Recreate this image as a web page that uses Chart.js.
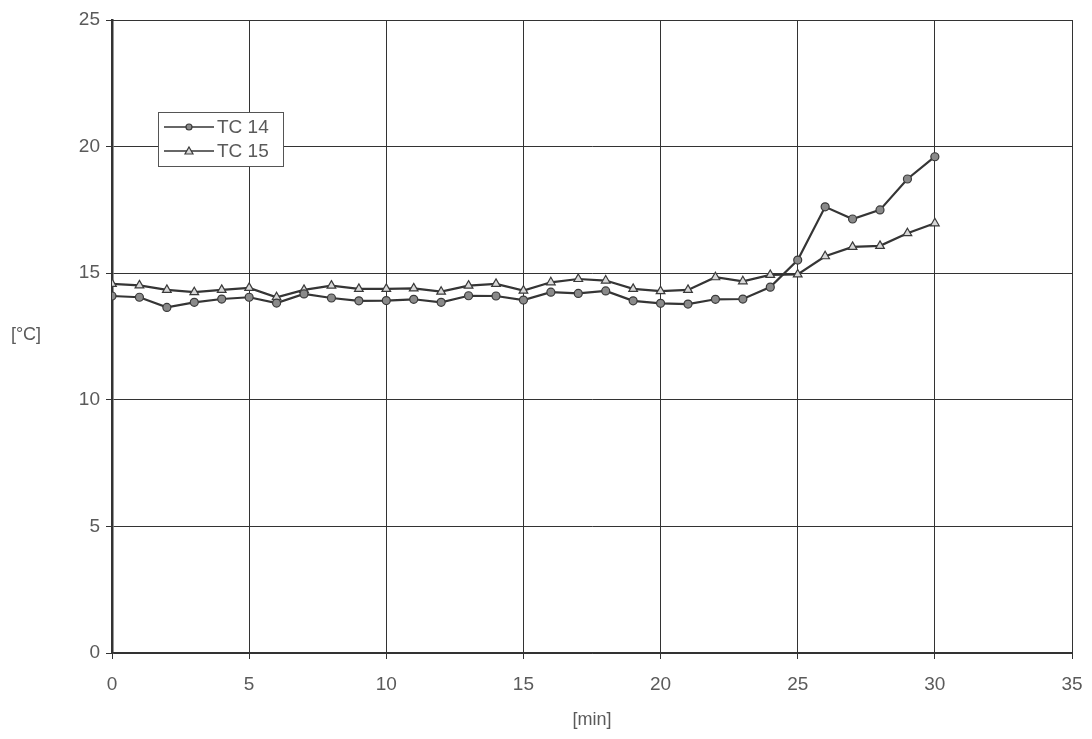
<!DOCTYPE html>
<html>
<head>
<meta charset="utf-8">
<script src="https://cdn.jsdelivr.net/npm/chart.js@4/dist/chart.umd.min.js"></script>
<style>
  html, body { margin: 0; padding: 0; background: #fff; }
  #wrap { width: 1092px; height: 739px; }
</style>
</head>
<body>
<div id="wrap"><canvas id="grafico" width="1092" height="739"></canvas></div>
<script>
// dati
var minuti = [0, 1, 2, 3, 4, 5, 6, 7, 8, 9, 10, 11, 12, 13, 14, 15, 16, 17, 18, 19, 20, 21, 22, 23, 24, 25, 26, 27, 28, 29, 30];
var tc14 = [14.1, 14.05, 13.65, 13.85, 13.98, 14.05, 13.82, 14.18, 14.02, 13.91, 13.92, 13.97, 13.85, 14.11, 14.1, 13.94, 14.25, 14.2, 14.3, 13.91, 13.81, 13.78, 13.97, 13.98, 14.45, 15.52, 17.62, 17.14, 17.5, 18.72, 19.6];
var tc15 = [14.58, 14.52, 14.34, 14.25, 14.34, 14.42, 14.05, 14.34, 14.51, 14.38, 14.38, 14.4, 14.27, 14.51, 14.58, 14.31, 14.64, 14.77, 14.71, 14.38, 14.29, 14.34, 14.84, 14.68, 14.93, 14.95, 15.67, 16.04, 16.08, 16.58, 16.97];
var etichette = ['TC 14', 'TC 15'];
var titoloX = '[min]';
var titoloY = '[\u00B0C]';

var grigioTesto = '#5a5a5a';
var grigioLinea = '#353535';

function punti(xs, ys) {
  var out = [];
  for (var i = 0; i < xs.length; i++) {
    out.push({ x: xs[i], y: ys[i] });
  }
  return out;
}

// legenda dentro l'area del grafico, con il riquadro
var legendaBox = {
  id: 'legendaBox',
  afterDraw: function (chart) {
    var ctx = chart.ctx;
    var x0 = 158, y0 = 112, w = 125, h = 54;
    ctx.save();
    ctx.fillStyle = '#fff';
    ctx.fillRect(x0, y0, w, h);
    ctx.strokeStyle = '#555';
    ctx.lineWidth = 1;
    ctx.strokeRect(x0 + 0.5, y0 + 0.5, w, h);
    ctx.font = '19px "Liberation Sans", Arial, sans-serif';
    ctx.textBaseline = 'middle';
    chart.data.datasets.forEach(function (ds, i) {
      var yy = y0 + 15 + i * 24;
      ctx.strokeStyle = grigioLinea;
      ctx.lineWidth = 1.5;
      ctx.beginPath();
      ctx.moveTo(x0 + 6, yy);
      ctx.lineTo(x0 + 56, yy);
      ctx.stroke();
      ctx.fillStyle = ds.pointBackgroundColor;
      ctx.strokeStyle = ds.pointBorderColor;
      ctx.lineWidth = 1.2;
      if (ds.pointStyle === 'triangle') {
        ctx.beginPath();
        ctx.moveTo(x0 + 31, yy - 4);
        ctx.lineTo(x0 + 35, yy + 3);
        ctx.lineTo(x0 + 27, yy + 3);
        ctx.closePath();
        ctx.fill();
        ctx.stroke();
      } else {
        ctx.beginPath();
        ctx.arc(x0 + 31, yy, 3, 0, Math.PI * 2);
        ctx.fill();
        ctx.stroke();
      }
      ctx.fillStyle = grigioTesto;
      ctx.fillText(ds.label, x0 + 59, yy + 1);
    });
    ctx.restore();
  }
};

// titolo asse y orizzontale
var titoloAsseY = {
  id: 'titoloAsseY',
  afterDraw: function (chart) {
    var ctx = chart.ctx;
    ctx.save();
    ctx.font = '18px "Liberation Sans", Arial, sans-serif';
    ctx.fillStyle = grigioTesto;
    ctx.textAlign = 'center';
    ctx.textBaseline = 'middle';
    ctx.fillText(titoloY, 26, 335);
    ctx.restore();
  }
};

var ctx = document.getElementById('grafico');
var chart = new Chart(ctx, {
  type: 'line',
  data: {
    datasets: [{
      label: etichette[0],
      data: punti(minuti, tc14),
      borderColor: grigioLinea,
      borderWidth: 2.2,
      pointStyle: 'circle',
      pointRadius: 4,
      pointBackgroundColor: '#8a8a8a',
      pointBorderColor: '#3a3a3a',
      pointBorderWidth: 1.2,
      lineTension: 0,
      fill: false
    }, {
      label: etichette[1],
      data: punti(minuti, tc15),
      borderColor: grigioLinea,
      borderWidth: 2.2,
      pointStyle: 'triangle',
      pointRadius: 5,
      pointBackgroundColor: '#d8d8d8',
      pointBorderColor: '#3a3a3a',
      pointBorderWidth: 1.2,
      lineTension: 0,
      fill: false
    }]
  },
  options: {
    responsive: false,
    animation: false,
    layout: { padding: { top: 20, right: 20, left: 0, bottom: 0 } },
    plugins: {
      legend: { display: false },
      tooltip: { enabled: false }
    },
    scales: {
      x: {
        type: 'linear',
        min: 0,
        max: 35,
        ticks: {
          stepSize: 5,
          padding: 14,
          color: grigioTesto,
          font: { family: '"Liberation Sans", Arial, sans-serif', size: 19 }
        },
        grid: { color: '#333', lineWidth: 1, tickLength: 6, drawTicks: true },
        border: { color: '#333', width: 1.5 },
        title: {
          display: true,
          text: titoloX,
          color: grigioTesto,
          font: { family: '"Liberation Sans", Arial, sans-serif', size: 18 },
          padding: { top: 6, bottom: 8 }
        },
        afterFit: function (scale) {
          scale.height = 86;
          scale.paddingRight = 0;
          scale.paddingLeft = 0;
        }
      },
      y: {
        min: 0,
        max: 25,
        ticks: {
          stepSize: 5,
          padding: 6,
          color: grigioTesto,
          font: { family: '"Liberation Sans", Arial, sans-serif', size: 19 }
        },
        grid: { color: '#333', lineWidth: 1, tickLength: 6 },
        border: { color: '#333', width: 2.5 },
        afterFit: function (scale) { scale.width = 112; }
      },
      y2: {
        position: 'right',
        min: 0,
        max: 25,
        ticks: { display: false },
        grid: { display: false },
        border: { color: '#333', width: 1 },
        afterFit: function (scale) { scale.width = 0; }
      },
      x2: {
        position: 'top',
        type: 'linear',
        min: 0,
        max: 35,
        ticks: { display: false },
        grid: { display: false },
        border: { color: '#333', width: 1 },
        afterFit: function (scale) {
          scale.height = 0;
          scale.paddingRight = 0;
          scale.paddingLeft = 0;
        }
      }
    }
  },
  plugins: [legendaBox, titoloAsseY]
});
</script>
</body>
</html>
